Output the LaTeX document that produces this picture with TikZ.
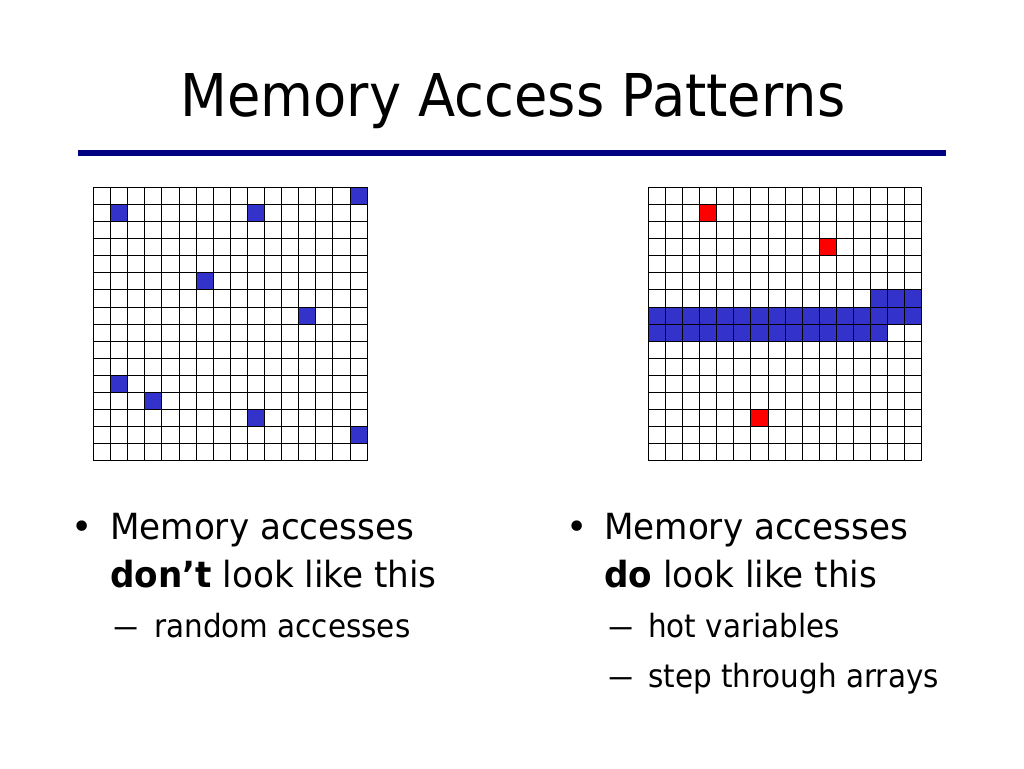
\documentclass[tikz,border=0pt]{standalone}
\usepackage{fontspec}
\setmainfont{DejaVu Sans}
\usetikzlibrary{calc}
\definecolor{rulenavy}{RGB}{0,0,128}
\definecolor{cellblue}{RGB}{51,51,204}
\definecolor{cellred}{RGB}{255,0,0}
\newcommand{\tah}[1]{\scalebox{0.92}[1]{#1}}
\newcommand{\tahb}[1]{\scalebox{0.95}[1]{#1}}
\newcommand{\subdash}{\scalebox{1.7}[1]{–}}
\tikzset{
  title/.style={font=\fontsize{59}{64}\selectfont, anchor=base, inner sep=0},
  item/.style={font=\fontsize{36}{40}\selectfont, anchor=base west, inner sep=0},
  subitem/.style={font=\fontsize{32}{36}\selectfont, anchor=base west, inner sep=0},
  cellline/.style={black, line width=1pt},
}

\begin{document}
\begin{tikzpicture}[x=1pt, y=-1pt]
\useasboundingbox (0,0) rectangle (1024,768);

\node[title] (title) at (513,116) {\tah{Memory Access Patterns}};
\draw[rulenavy, line width=6pt] (78,153) -- (946,153);

% left grid: random accesses
\begin{scope}[shift={(93.5,187.3)}, x=17.1pt, y=-17.1pt]
\foreach \c/\r in {15/0,1/1,9/1,6/5,12/7,1/11,3/12,9/13,15/14} {
  \fill[cellblue] (\c,\r) rectangle ++(1,1);
}
\foreach \i in {0,...,16} {
  \draw[cellline] (\i,0)--(\i,16);
  \draw[cellline] (0,\i)--(16,\i);
}
\end{scope}

% right grid: hot variables and arrays
\begin{scope}[shift={(648.3,187.3)}, x=17.1pt, y=-17.1pt]
\foreach \c/\r in {3/1,10/3,6/13} {
  \fill[cellred] (\c,\r) rectangle ++(1,1);
}
\fill[cellblue] (13,6) rectangle (16,7);
\fill[cellblue] (0,7) rectangle (16,8);
\fill[cellblue] (0,8) rectangle (14,9);
\foreach \i in {0,...,16} {
  \draw[cellline] (\i,0)--(\i,16);
  \draw[cellline] (0,\i)--(16,\i);
}
\end{scope}

% left bullets
\node[item] (ldot) at (71,539) {•};
\node[item] (litem) at (110,539) {\tahb{Memory accesses}};
\node[item] (litemb) at (110,587) {\tahb{\textbf{don’t} look like this}};
\node[subitem] (ldash) at (112,637) {\subdash};
\node[subitem] (lsub) at (154,637) {\tah{random accesses}};

% right bullets
\node[item] (rdot) at (566,539) {•};
\node[item] (ritem) at (604,539) {\tahb{Memory accesses}};
\node[item] (ritemb) at (604,587) {\tahb{\textbf{do} look like this}};
\node[subitem] (rdasha) at (607,637) {\subdash};
\node[subitem] (rsuba) at (648,637) {\tah{hot variables}};
\node[subitem] (rdashb) at (607,687) {\subdash};
\node[subitem] (rsubb) at (648,687) {\tah{step through arrays}};
\end{tikzpicture}
\end{document}
